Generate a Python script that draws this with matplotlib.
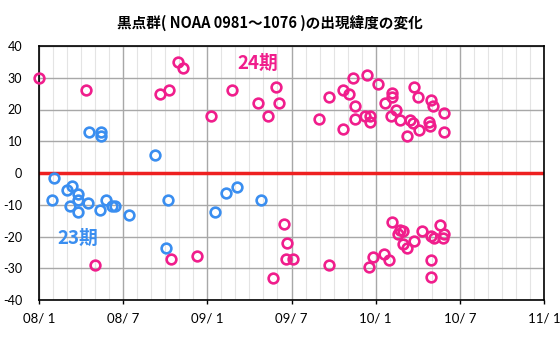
import numpy as np
import matplotlib
matplotlib.use("Agg")
import matplotlib.pyplot as plt

# months since 2008/01 (fractional) and latitude in degrees
pink_month = [0.0, 3.35, 3.99, 8.62, 9.27, 9.43, 9.93, 10.24, 11.24, 12.24,
              13.73, 15.61, 16.34, 16.70, 16.91, 17.13, 17.48, 17.65, 17.60, 18.13,
              19.96, 20.65, 20.65, 21.65, 21.65, 22.10, 22.40, 22.52, 22.50, 23.24,
              23.57, 23.57, 23.36, 23.54, 23.78, 24.16, 24.59, 24.66, 24.95, 25.09,
              25.18, 25.18, 25.18, 25.45, 25.57, 25.73, 25.73, 25.97, 25.92, 26.21,
              26.23, 26.44, 26.64, 26.73, 26.75, 26.99, 27.06, 27.30, 27.94, 28.06,
              27.82, 27.87, 27.92, 28.15, 27.92, 27.92, 28.58, 28.87, 28.87, 28.89,
              28.82]
pink_lat = [30, 26, -29, 25, 26, -27, 35, 33, -26, 18,
            26, 22, 18, -33, 27, 22, -16, -22, -27, -27,
            17, 24, -29, 26, 14, 25, 30, 21, 17, 18,
            18, 16, 31, -29.5, -26.5, 28, -25.5, 22, -27.5, 18,
            25.3, 24, -15.3, 20, -19.3, 16.7, -18.1, -18.2, -22.3, 11.7,
            -23.5, 16.7, 15.7, 27, -21.5, 24, 13.6, -18.4, 23, 21,
            16, 14.7, -19.7, -20.6, -27.4, -32.6, -16.4, 19, 12.8, -19.3,
            -20.6]

blue_month = [0.91, 1.07, 2.02, 2.33, 2.80, 2.80, 2.21, 2.80, 3.51, 3.59,
              4.35, 4.40, 4.40, 4.75, 5.18, 5.44, 6.44, 8.27, 9.03, 9.22,
              12.54, 13.31, 14.11, 15.86]
blue_lat = [-8.4, -1.5, -5.4, -4.1, -6.6, -8.5, -10.3, -12.4, -9.5, 13,
            -11.5, 13, 11.5, -8.4, -10.3, -10.3, -13.3, 5.7, -23.5, -8.5,
            -12.4, -6.4, -4.4, -8.5]

tick_pos = [0, 6, 12, 18, 24, 30, 36]
tick_labels = ["08/ 1", "08/ 7", "09/ 1", "09/ 7", "10/ 1", "10/ 7", "11/ 1"]

pink = "#f01e8c"
blue = "#3a8ef0"
jp = ["Noto Sans CJK JP", "DejaVu Sans"]

fig = plt.figure(figsize=(5.6, 3.4), dpi=100)
ax = fig.add_axes([39/560, 40/340, 505/560, 254/340])

ax.set_xlim(0, 36)
ax.set_ylim(-40, 40)
ax.set_xticks(tick_pos)
ax.set_xticklabels(tick_labels, fontfamily="Lato", fontsize=9.5)
ax.set_xticks(np.arange(0, 37, 1), minor=True)
ax.set_yticks(np.arange(-40, 41, 10))
ax.set_yticklabels([str(v) for v in range(-40, 41, 10)], fontfamily="Lato", fontsize=9)

ax.grid(True, which="minor", axis="x", color="#e4e4e4", linewidth=0.8)
ax.grid(True, which="major", color="#a8a8a8", linewidth=1.0)
ax.set_axisbelow(True)
ax.tick_params(axis="x", which="major", length=3, width=1, pad=6, color="black")
ax.tick_params(axis="x", which="minor", length=0)
ax.tick_params(axis="y", length=0, pad=12)
for s in ax.spines.values():
    s.set_linewidth(1.2)
    s.set_color("black")

ax.axhline(0, color="#ee2020", linewidth=2.5, zorder=2)

ax.plot(blue_month, blue_lat, "o", markersize=7, markerfacecolor="none",
        markeredgecolor=blue, markeredgewidth=1.9, zorder=3, clip_on=False)
ax.plot(pink_month, pink_lat, "o", markersize=7, markerfacecolor="none",
        markeredgecolor=pink, markeredgewidth=1.9, zorder=3, clip_on=False)

ax.text(15.61, 34.6, "24期", color=pink, fontsize=13.5, fontweight="bold",
        family=jp, ha="center", va="center")
ax.text(2.80, -20.6, "23期", color=blue, fontsize=13.5, fontweight="bold",
        family=jp, ha="center", va="center")

fig.text(270/560, 1 - 23/340, "黒点群( NOAA 0981～1076 )の出現緯度の変化",
         family=jp, fontsize=10.5, fontweight="bold", ha="center", va="center")

fig.savefig("out.png", dpi=100)
